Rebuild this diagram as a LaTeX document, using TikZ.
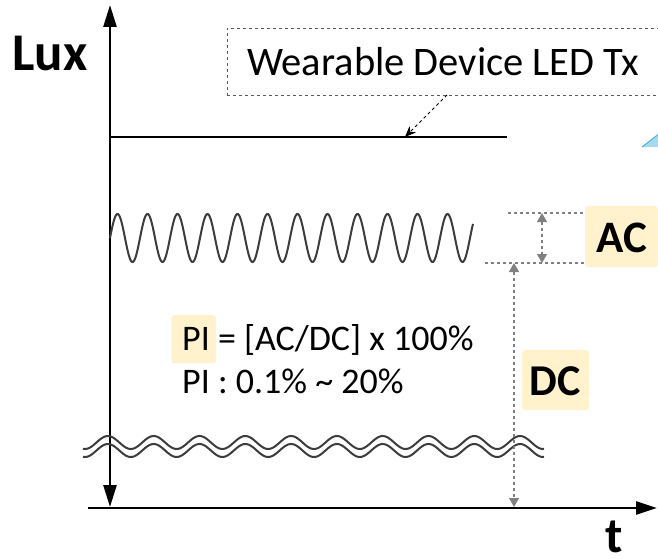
\documentclass[tikz,border=0pt]{standalone}
\usepackage{fontspec}
\setmainfont{Carlito}
\usetikzlibrary{arrows.meta}
\definecolor{hl}{HTML}{FFF2CC}
\definecolor{guide}{HTML}{808080}
\definecolor{wavec}{HTML}{3C3C3C}
\definecolor{skyfill}{HTML}{A8DAEE}
\definecolor{skyedge}{HTML}{4DB3DD}
\tikzset{
 axisline/.style={line width=2.6pt},
 guidearrow/.style={guide, line width=1.1pt, dash pattern=on 3pt off 3pt, {Triangle[length=9pt,width=10pt]}-{Triangle[length=9pt,width=10pt]}},
 guideline/.style={guide, line width=1.1pt, dash pattern=on 3pt off 3pt},
 hlbox/.style={fill=hl, rounded corners=3pt, inner sep=0pt},
 bigbold/.style={font=\fontsize{45}{54}\selectfont\bfseries, inner sep=0pt},
 bodytext/.style={font=\fontsize{36}{43}\selectfont, inner sep=0pt},
 wavy/.style={wavec, line width=2pt},
}
\begin{document}
\begin{tikzpicture}[x=1pt,y=-1pt]
\useasboundingbox (0,0) rectangle (658,559);
% coordinates
\coordinate (ytop) at (110,5);
\coordinate (ybot) at (110,507);
\coordinate (xl) at (88,508);
\coordinate (xr) at (657,508);
\coordinate (dcl) at (110,137);
\coordinate (dcr) at (507,137);
\coordinate (ledpt) at (405,137);
\coordinate (boxfoot) at (447,95);
\coordinate (actopl) at (508,213);
\coordinate (acbotl) at (485,263);
\coordinate (acarrtop) at (542,213);
\coordinate (acarrbot) at (542,263);
\coordinate (dcarrtop) at (514,263);
\coordinate (dcarrbot) at (514,507);
% light blue sliver
\fill[skyfill] (642,147) -- (660,133) -- (660,147) -- cycle;
\draw[skyedge, line width=1pt] (642,147) -- (660,133);
% axes
\draw[axisline, {Triangle[length=22pt,width=13pt]}-{Triangle[length=22pt,width=13pt]}] (ytop) -- (ybot);
\draw[axisline, -{Triangle[length=21pt,width=13pt]}] (xl) -- (xr);
\node[bigbold, font=\fontsize{53}{60}\selectfont\bfseries, anchor=base] (lux) at (50,71) {Lux};
\node[bigbold, font=\fontsize{50}{60}\selectfont\bfseries, anchor=base] (tlab) at (614,552) {t};
% wearable box
\node[draw, dashed, gray!70!black, line width=0.8pt, minimum width=480pt, minimum height=67pt, anchor=north west, inner sep=0pt] (wbox) at (227,28) {};
\node[font=\fontsize{40.5}{48}\selectfont, anchor=base west, inner sep=0pt] (wtext) at (247,76) {Wearable Device LED Tx};
% DC level line
\draw[line width=2.4pt] (dcl) -- (dcr);
\draw[dashed, line width=1pt, -{Stealth[length=11pt,width=9pt]}] (boxfoot) -- (ledpt);
% sine
\draw[wavy] plot[domain=110:473, samples=500, smooth] (\x, {238 - 24*sin(12*(\x-110))});
% double wavy break
\draw[wavy] plot[domain=83:544, samples=300, smooth] (\x, {442.5 + 6.5*cos(7.8603*(\x-85))});
\draw[wavy] plot[domain=83:544, samples=300, smooth] (\x, {450.5 + 6.5*cos(7.8603*(\x-85))});
% AC box and guides
\node[hlbox, minimum width=73pt, minimum height=61pt, anchor=north west] (acbox) at (585,206) {};
\node[bigbold] (aclab) at (622,238) {AC};
\draw[guideline] (actopl) -- (acbox.west |- actopl);
\draw[guideline] (acbotl) -- (acbox.west |- acbotl);
\draw[guidearrow] (acarrtop) -- (acarrbot);
\draw[guidearrow] (dcarrtop) -- (dcarrbot);
% DC box
\node[hlbox, minimum width=67pt, minimum height=60pt, anchor=north west] (dcbox) at (522,350) {};
\node[bigbold, font=\fontsize{44}{52}\selectfont\bfseries] (dclab) at (555.5,381) {DC};
% PI formula
\node[hlbox, minimum width=45pt, minimum height=48pt, anchor=north west] (pibox) at (171,315) {};
\node[bodytext, anchor=base west] (line1) at (182,350) {PI = [AC/DC] x 100\%};
\node[bodytext, anchor=base west] (line2) at (182,393) {PI : 0.1\% \textasciitilde{} 20\%};
\end{tikzpicture}
\end{document}
